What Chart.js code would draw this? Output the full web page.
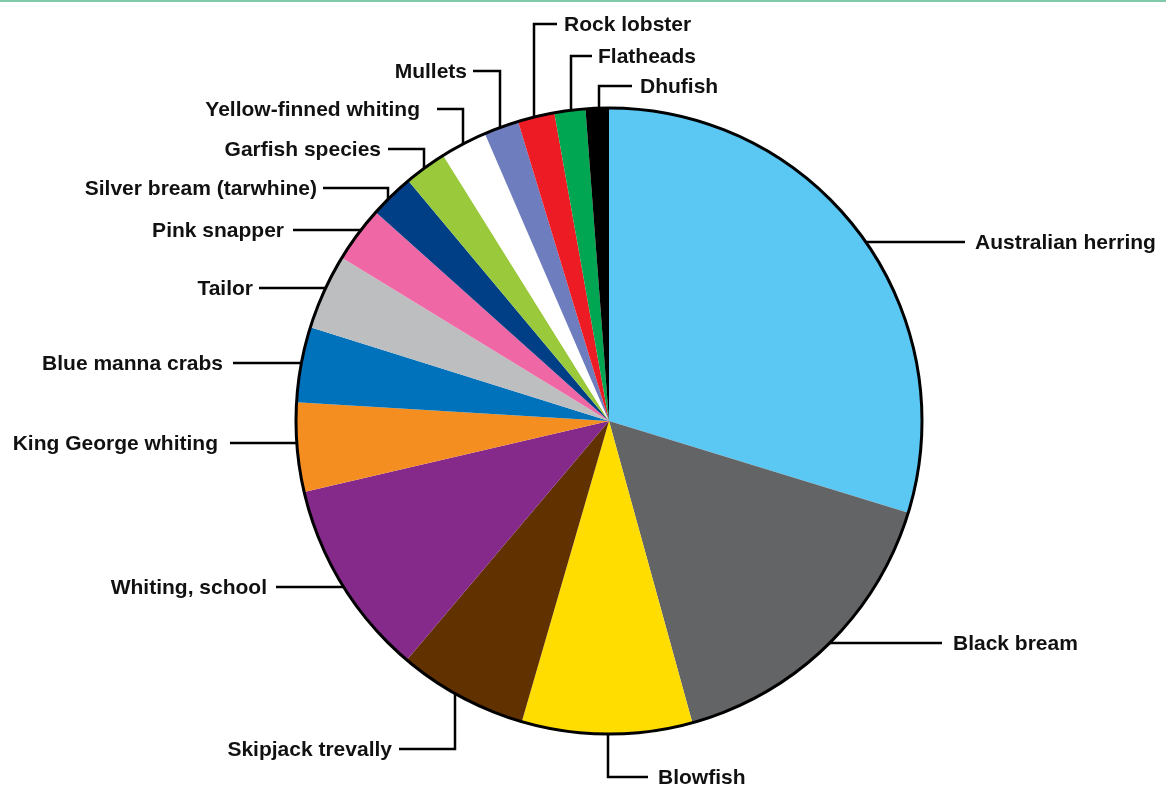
<!DOCTYPE html>
<html><head><meta charset="utf-8">
<script src="https://cdn.jsdelivr.net/npm/chart.js@4/dist/chart.umd.min.js"></script>
<style>
html,body{margin:0;padding:0;background:#fff;overflow:hidden;}
#wrap{width:1166px;height:787px;position:relative;}
</style></head><body>
<div id="wrap"><canvas id="c" width="1166" height="787"></canvas></div>
<script>
const categories = ["Australian herring","Black bream","Blowfish","Skipjack trevally","Whiting, school","King George whiting","Blue manna crabs","Tailor","Pink snapper","Silver bream (tarwhine)","Garfish species","Yellow-finned whiting","Mullets","Rock lobster","Flatheads","Dhufish"];
const values = [29.8,16.0,8.8,6.7,10.2,4.6,3.9,3.9,2.9,2.3,2.2,2.4,1.8,1.9,1.6,1.2];
const colors = ["#5BC8F4","#636466","#FFDD00","#623100","#85298B","#F58E20","#0072BC","#BCBEC0","#F067A6","#003F86","#9ACA3C","#FFFFFF","#6E7DBD","#ED1C24","#00A651","#000000"];

// label placement (layout only)
const labelLayout = [
 {type:'h', y:242, lineTo:965, textX:975, align:'left'},
 {type:'h', y:643, lineTo:942, textX:953, align:'left'},
 {type:'v', x:608, y:777, lineTo:648, textX:658, align:'left'},
 {type:'v', x:455, y:749, lineTo:399, textX:392, align:'right'},
 {type:'h', y:587, lineTo:276, textX:267, align:'right'},
 {type:'h', y:443, lineTo:230, textX:218, align:'right'},
 {type:'h', y:363, lineTo:233, textX:223, align:'right'},
 {type:'h', y:288, lineTo:259, textX:253, align:'right'},
 {type:'h', y:230, lineTo:293, textX:284, align:'right'},
 {type:'v', x:388, y:188, lineTo:323, textX:317, align:'right'},
 {type:'v', x:424, y:149, lineTo:388, textX:381, align:'right'},
 {type:'v', x:463, y:109, lineTo:437, textX:420, align:'right'},
 {type:'v', x:500, y:71, lineTo:473, textX:467, align:'right'},
 {type:'v', x:534, y:24, lineTo:557, textX:564, align:'left'},
 {type:'v', x:571, y:56, lineTo:592, textX:598, align:'left'},
 {type:'v', x:599, y:86, lineTo:632, textX:640, align:'left'}
];

const labelPlugin = {
  id:'labels',
  beforeDraw(chart){
    const ctx = chart.ctx;
    ctx.save();
    ctx.fillStyle = '#80C9AA';
    ctx.fillRect(0,0,chart.width,2);
    ctx.restore();
  },
  afterDatasetsDraw(chart){
    const ctx = chart.ctx;
    const meta = chart.getDatasetMeta(0);
    const arc = meta.data[0];
    const cx = arc.x, cy = arc.y, r = arc.outerRadius;
    ctx.save();
    ctx.beginPath();
    ctx.arc(cx, cy, r, 0, Math.PI*2);
    ctx.lineWidth = 3;
    ctx.strokeStyle = '#000';
    ctx.stroke();
    ctx.lineWidth = 2.5;
    ctx.lineCap = 'butt';
    ctx.lineJoin = 'miter';
    ctx.font = 'bold 21px "Liberation Sans", Arial, sans-serif';
    ctx.fillStyle = '#111';
    ctx.textBaseline = 'middle';
    chart.data.labels.forEach((lab, i) => {
      const L = labelLayout[i];
      ctx.beginPath();
      if (L.type === 'h') {
        const dy = L.y - cy;
        const dx = Math.sqrt(Math.max(r*r - dy*dy, 0));
        const ex = L.lineTo > cx ? cx + dx : cx - dx;
        ctx.moveTo(ex, L.y);
        ctx.lineTo(L.lineTo, L.y);
      } else {
        const dx = L.x - cx;
        const dy = Math.sqrt(Math.max(r*r - dx*dx, 0));
        const ey = L.y > cy ? cy + dy : cy - dy;
        ctx.moveTo(L.x, ey);
        ctx.lineTo(L.x, L.y);
        ctx.lineTo(L.lineTo, L.y);
      }
      ctx.stroke();
      ctx.textAlign = L.align;
      ctx.fillText(lab, L.textX, L.y + 1);
    });
    ctx.restore();
  }
};

new Chart(document.getElementById('c'), {
  type:'pie',
  data:{
    labels: categories,
    datasets:[{ data: values, backgroundColor: colors, borderWidth:0, hoverOffset:0 }]
  },
  options:{
    responsive:false,
    animation:false,
    layout:{ padding:{ top:108, bottom:53, left:296, right:244 } },
    plugins:{ legend:{display:false}, tooltip:{enabled:false} },
    events:[]
  },
  plugins:[labelPlugin]
});
</script>
</body></html>
